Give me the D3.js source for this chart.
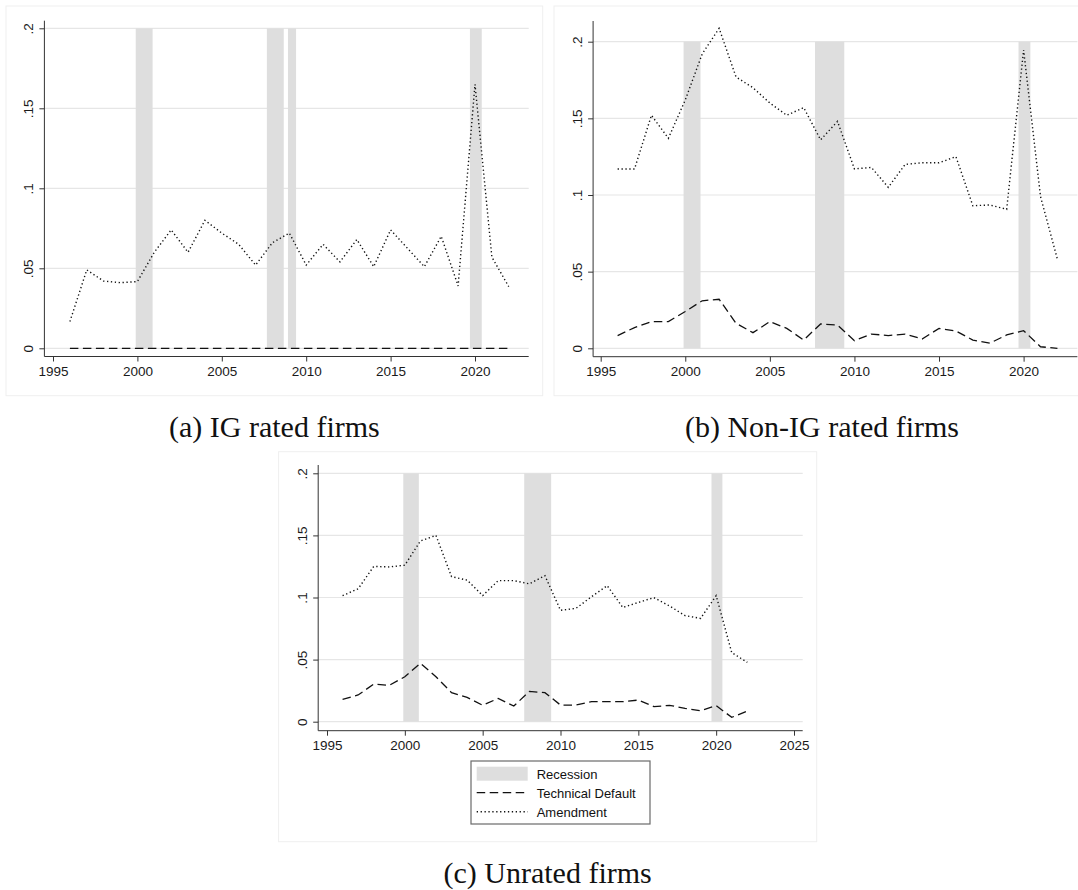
<!DOCTYPE html>
<html>
<head>
<meta charset="utf-8">
<script src="https://cdn.jsdelivr.net/npm/d3@7"></script>
<style>
body { margin: 0; background: #fff; }
svg { display: block; }
.tick text { font-family: "Liberation Sans", Arial, sans-serif; font-size: 13.5px; fill: #1a1a1a; }
.tick line { stroke: #333; stroke-width: 1; }
</style>
</head>
<body>
<script>
// data
const years = [1996, 1997, 1998, 1999, 2000, 2001, 2002, 2003, 2004, 2005, 2006, 2007, 2008, 2009,
               2010, 2011, 2012, 2013, 2014, 2015, 2016, 2017, 2018, 2019, 2020, 2021, 2022];

// (a) IG rated
const techA  = [0, 0, 0, 0, 0, 0, 0, 0, 0, 0, 0, 0, 0, 0, 0, 0, 0, 0, 0, 0, 0, 0, 0, 0, 0, 0, 0];
const amendA = [0.0167, 0.049, 0.042, 0.041, 0.0417, 0.060, 0.074, 0.060, 0.080, 0.072, 0.065, 0.052, 0.066, 0.072,
                0.052, 0.065, 0.054, 0.068, 0.051, 0.074, 0.0625, 0.051, 0.070, 0.039, 0.165, 0.057, 0.0385];

// (b) Non-IG rated
const techB  = [0.0083, 0.0135, 0.0174, 0.0174, 0.024, 0.031, 0.032, 0.0163, 0.0102, 0.0174, 0.013, 0.0054, 0.0159, 0.0152,
                0.005, 0.0093, 0.0083, 0.0093, 0.0061, 0.013, 0.0113, 0.0054, 0.0033, 0.0087, 0.0115, 0.001, 0.0];
const amendB = [0.117, 0.117, 0.152, 0.137, 0.162, 0.192, 0.2087, 0.177, 0.170, 0.160, 0.152, 0.157, 0.136, 0.148,
                0.117, 0.118, 0.105, 0.120, 0.121, 0.121, 0.125, 0.093, 0.0935, 0.0907, 0.1946, 0.099, 0.058];

// (c) Unrated
const techC  = [0.018, 0.0215, 0.0303, 0.0293, 0.0362, 0.047, 0.0362, 0.0234, 0.0196, 0.0132, 0.0188, 0.0126, 0.0244, 0.0234,
                0.0134, 0.0134, 0.0161, 0.0161, 0.0161, 0.0174, 0.0121, 0.0132, 0.0107, 0.0089, 0.0129, 0.0035, 0.0086];
const amendC = [0.1015, 0.107, 0.125, 0.1246, 0.126, 0.1455, 0.150, 0.1168, 0.114, 0.1015, 0.1136, 0.1136, 0.111, 0.1176,
                0.0897, 0.0913, 0.1007, 0.1095, 0.092, 0.096, 0.0999, 0.0932, 0.0854, 0.0832, 0.1015, 0.0556, 0.0478];

const recessionsA  = [[1999.9, 2000.9], [2007.67, 2008.67], [2008.92, 2009.4], [2019.7, 2020.4]];
const recessionsBC = [[1999.9, 2000.9], [2007.67, 2009.4], [2019.7, 2020.4]];

const xTicksAB = [1995, 2000, 2005, 2010, 2015, 2020];
const xTicksC  = [1995, 2000, 2005, 2010, 2015, 2020, 2025];
const yTicks   = [0, 0.05, 0.1, 0.15, 0.2];

const captions = ['(a) IG rated firms', '(b) Non-IG rated firms', '(c) Unrated firms'];
const legendLabels = ['Recession', 'Technical Default', 'Amendment'];

const DASH = '8.5,4.5';
const DOT = '1.3,2.6';
const BAND = '#dedede';

const svg = d3.select(document.body)
    .append('svg')
    .attr('width', 1078)
    .attr('height', 890);

svg.append('rect').attr('width', 1078).attr('height', 890).attr('fill', '#fff');

// layout of the three panels (pixels)
const panels = [
    { tech: techA, amend: amendA, rec: recessionsA, ticks: xTicksAB, caption: captions[0],
      frame: [6, 6, 542.7, 395.7], left: 44.4, right: 528.7, top: 20.7, bottom: 356.5,
      xDom: [1995, 2020], xRange: [53, 475], yRange: [348.3, 28.3], cap: [274.4, 436.7] },
    { tech: techB, amend: amendB, rec: recessionsBC, ticks: xTicksAB, caption: captions[1],
      frame: [554, 6, 1092, 395.7], left: 593.1, right: 1077.4, top: 21, bottom: 356.7,
      xDom: [1995, 2020], xRange: [600.7, 1023.6], yRange: [348.3, 41.7], cap: [822, 436.7] },
    { tech: techC, amend: amendC, rec: recessionsBC, ticks: xTicksC, caption: captions[2],
      frame: [278.6, 451.7, 816.7, 841.7], left: 318.2, right: 802.7, top: 465, bottom: 730.7,
      xDom: [1995, 2025], xRange: [327, 794], yRange: [721.7, 473.3], cap: [547.6, 882.7], legend: true }
];

function yFmt(d) {
    return d === 0 ? '0' : String(d).replace(/^0/, '');
}

panels.forEach(function(p) {
    const g = svg.append('g');
    const x = d3.scaleLinear().domain(p.xDom).range(p.xRange);
    const y = d3.scaleLinear().domain([0, 0.2]).range(p.yRange);

    // faint panel frame
    g.append('rect')
        .attr('x', p.frame[0]).attr('y', p.frame[1])
        .attr('width', p.frame[2] - p.frame[0]).attr('height', p.frame[3] - p.frame[1])
        .attr('fill', '#fff').attr('stroke', '#efefef').attr('stroke-width', 1);

    // gridlines
    g.append('g').selectAll('line')
        .data(yTicks)
        .enter().append('line')
        .attr('x1', p.left).attr('x2', p.right)
        .attr('y1', d => y(d)).attr('y2', d => y(d))
        .attr('stroke', '#e6e6e6').attr('stroke-width', 1.2);

    // recession bands
    g.append('g').selectAll('rect')
        .data(p.rec)
        .enter().append('rect')
        .attr('x', d => x(d[0]))
        .attr('width', d => x(d[1]) - x(d[0]))
        .attr('y', y(0.2))
        .attr('height', y(0) - y(0.2))
        .attr('fill', BAND);

    const line = d3.line()
        .x((d, i) => x(years[i]))
        .y(d => y(d));

    g.append('path')
        .attr('d', line(p.tech))
        .attr('fill', 'none').attr('stroke', '#111').attr('stroke-width', 1.3)
        .attr('stroke-dasharray', DASH);

    g.append('path')
        .attr('d', line(p.amend))
        .attr('fill', 'none').attr('stroke', '#111').attr('stroke-width', 1.4)
        .attr('stroke-dasharray', DOT);

    // axes
    const xAxis = d3.axisBottom(x).tickValues(p.ticks).tickSize(5).tickPadding(5).tickFormat(d3.format('d'));
    const gx = g.append('g')
        .attr('transform', `translate(0,${p.bottom})`)
        .call(xAxis);
    gx.select('.domain').remove();

    const yAxis = d3.axisLeft(y).tickValues(yTicks).tickSize(5).tickFormat(yFmt);
    const gy = g.append('g')
        .attr('transform', `translate(${p.left},0)`)
        .call(yAxis);
    gy.select('.domain').remove();
    gy.selectAll('.tick text')
        .attr('x', 0).attr('dy', 0)
        .attr('text-anchor', 'middle')
        .attr('transform', 'translate(-11,0) rotate(-90)');

    g.append('line')
        .attr('x1', p.left).attr('x2', p.right)
        .attr('y1', p.bottom).attr('y2', p.bottom)
        .attr('stroke', '#333').attr('stroke-width', 1);
    g.append('line')
        .attr('x1', p.left).attr('x2', p.left)
        .attr('y1', p.top).attr('y2', p.bottom)
        .attr('stroke', '#333').attr('stroke-width', 1);

    // caption
    svg.append('text')
        .attr('x', p.cap[0]).attr('y', p.cap[1])
        .attr('text-anchor', 'middle')
        .style('font-family', '"Liberation Serif", "Times New Roman", serif')
        .style('font-size', '30px')
        .attr('fill', '#111')
        .text(p.caption);

    if (p.legend) drawLegend(g);
});

function drawLegend(g) {
    const lg = g.append('g').attr('transform', 'translate(471,761)');
    lg.append('rect')
        .attr('width', 179).attr('height', 63)
        .attr('fill', '#fff').attr('stroke', '#6a6a6a').attr('stroke-width', 1.2);

    lg.append('rect')
        .attr('x', 5.7).attr('y', 5.7).attr('width', 51).attr('height', 14)
        .attr('fill', BAND);
    lg.append('line')
        .attr('x1', 5.7).attr('x2', 56.7).attr('y1', 31.7).attr('y2', 31.7)
        .attr('stroke', '#111').attr('stroke-width', 1.3).attr('stroke-dasharray', DASH);
    lg.append('line')
        .attr('x1', 5.7).attr('x2', 56.7).attr('y1', 50.7).attr('y2', 50.7)
        .attr('stroke', '#111').attr('stroke-width', 1.4).attr('stroke-dasharray', DOT);

    lg.selectAll('text.lab')
        .data(legendLabels)
        .enter().append('text')
        .attr('class', 'lab')
        .attr('x', 65.7)
        .attr('y', (d, i) => 18.3 + i * 19)
        .style('font-family', '"Liberation Sans", Arial, sans-serif')
        .style('font-size', '13px')
        .attr('fill', '#111')
        .text(d => d);
}
</script>
</body>
</html>
